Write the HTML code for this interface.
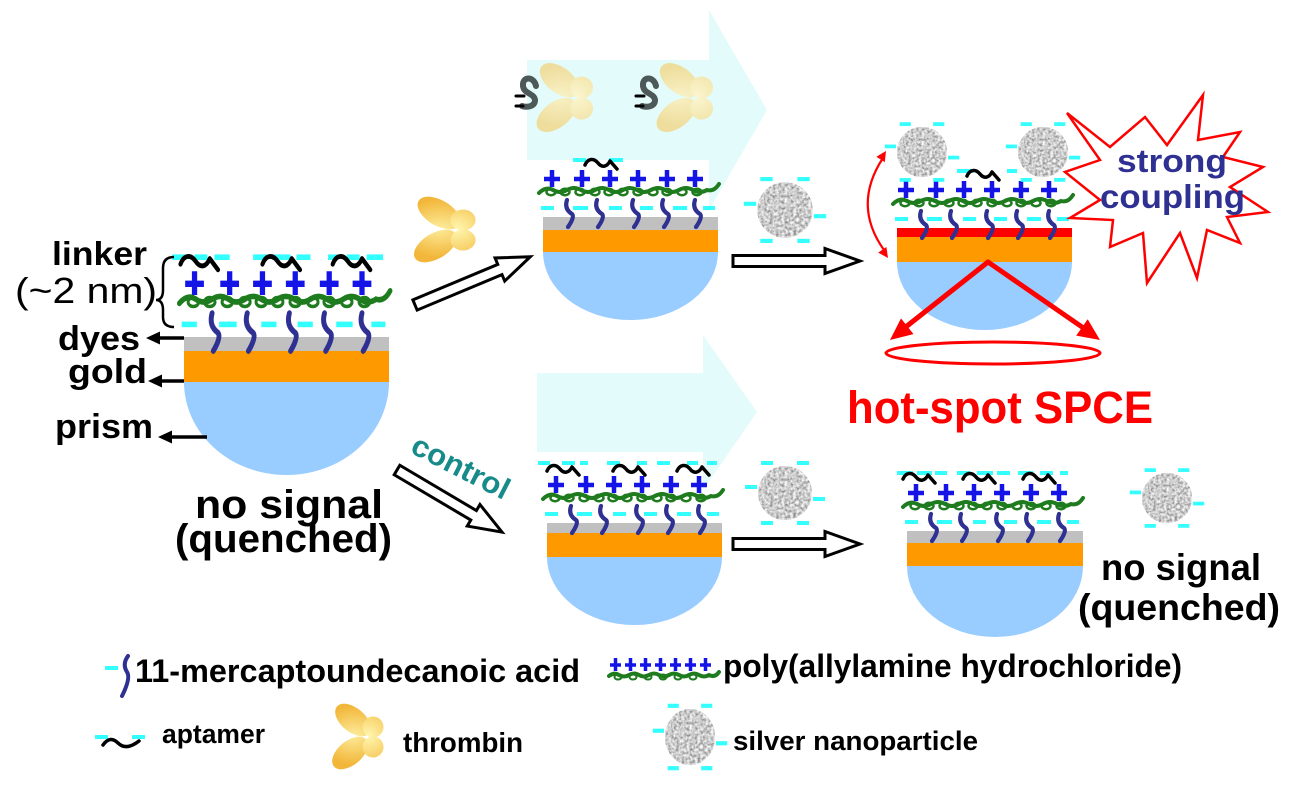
<!DOCTYPE html>
<html><head><meta charset="utf-8"><style>
html,body{margin:0;padding:0;background:#fff;}
svg{display:block;}
</style></head><body>
<svg width="1299" height="789" viewBox="0 0 1299 789" xmlns="http://www.w3.org/2000/svg" xmlns:xlink="http://www.w3.org/1999/xlink" font-family="'Liberation Sans', Arial, sans-serif">
<defs>
  <filter id="tex" x="0" y="0" width="1" height="1">
    <feTurbulence type="fractalNoise" baseFrequency="0.35" numOctaves="2" seed="4" result="n"/>
    <feColorMatrix in="n" type="matrix" values="1.25 0 0 0 -0.02  1.25 0 0 0 -0.02  1.25 0 0 0 -0.02  0 0 0 0 1" result="m"/>
    <feComposite in="m" in2="SourceGraphic" operator="in"/>
  </filter>
  <radialGradient id="gold" gradientUnits="userSpaceOnUse" cx="10" cy="0" r="36">
    <stop offset="0" stop-color="#fff7b0"/>
    <stop offset="1" stop-color="#f2b73a"/>
  </radialGradient>
  <radialGradient id="pale" gradientUnits="userSpaceOnUse" cx="10" cy="0" r="36">
    <stop offset="0" stop-color="#fbf6cf"/>
    <stop offset="1" stop-color="#eedd9c"/>
  </radialGradient>

  <g id="core">
    <g fill="#33ffff">
      <rect x="-2" y="-11" width="13" height="4"/>
      <rect x="30" y="-11" width="15" height="4"/>
      <rect x="66" y="-11" width="13" height="4"/>
      <rect x="97" y="-11" width="13" height="4"/>
      <rect x="130" y="-11" width="14" height="4"/>
      <rect x="160" y="-11" width="12" height="4"/>
    </g>
    <g fill="none" stroke="#2e3192" stroke-width="4.2" stroke-linecap="round" stroke-linejoin="round">
      <path d="M24,-17 Q21,-8 29,-3 Q32,0 25,10"/>
      <path d="M54,-17 Q51,-8 59,-3 Q62,0 55,10"/>
      <path d="M90,-17 Q87,-8 95,-3 Q98,0 91,10"/>
      <path d="M120,-17 Q117,-8 125,-3 Q128,0 121,10"/>
      <path d="M152,-17 Q149,-8 157,-3 Q160,0 153,10"/>
    </g>
    <g fill="none" stroke="#1414e6" stroke-width="4.5">
      <path d="M1,-38 h16 M9,-47 v17"/>
      <path d="M31,-38 h16 M39,-47 v17"/>
      <path d="M59,-38 h16 M67,-47 v17"/>
      <path d="M87,-38 h16 M95,-47 v17"/>
      <path d="M116,-38 h16 M124,-47 v17"/>
      <path d="M144,-38 h16 M152,-47 v17"/>
    </g>
    <path d="M-4,-24 Q3,-31 10,-27 T24,-27 T38,-27 T52,-27 T66,-27 T80,-27 T94,-27 T108,-27 T122,-27 T136,-27 T150,-27 T164,-27 Q171,-25 176,-33" fill="none" stroke="#1e7b1e" stroke-width="4" stroke-linecap="round"/>
    <g fill="none" stroke="#1e7b1e" stroke-width="2.5">
      <ellipse cx="8" cy="-25" rx="4.5" ry="3.2"/>
      <ellipse cx="22" cy="-25" rx="4.5" ry="3.2"/>
      <ellipse cx="37" cy="-25" rx="4.5" ry="3.2"/>
      <ellipse cx="52" cy="-25" rx="4.5" ry="3.2"/>
      <ellipse cx="66" cy="-25" rx="4.5" ry="3.2"/>
      <ellipse cx="80" cy="-25" rx="4.5" ry="3.2"/>
      <ellipse cx="95" cy="-25" rx="4.5" ry="3.2"/>
      <ellipse cx="110" cy="-25" rx="4.5" ry="3.2"/>
      <ellipse cx="124" cy="-25" rx="4.5" ry="3.2"/>
      <ellipse cx="139" cy="-25" rx="4.5" ry="3.2"/>
      <ellipse cx="154" cy="-25" rx="4.5" ry="3.2"/>
    </g>
  </g>

  <path id="apt" d="M0,-52 C3,-59 9,-59 13,-54 C17,-49 22,-50 25,-56 L32,-48" fill="none" stroke="#000" stroke-width="3.5" stroke-linecap="round" stroke-linejoin="round"/>

  <g id="np">
    <circle r="27" fill="#999" filter="url(#tex)"/>
    <g fill="#33ffff">
      <rect x="-24" y="-32" width="12" height="4"/>
      <rect x="12" y="-32" width="12" height="4"/>
      <rect x="-40" y="-8" width="12" height="4"/>
      <rect x="28" y="4" width="12" height="4"/>
      <rect x="-24" y="28" width="12" height="4"/>
      <rect x="12" y="28" width="12" height="4"/>
    </g>
  </g>

  <g id="thr">
    <ellipse cx="-5" cy="-16" rx="21" ry="12" transform="rotate(40 -5 -16)"/>
    <circle cx="15" cy="-9" r="10.5"/>
    <ellipse cx="-8" cy="17" rx="21" ry="12" transform="rotate(-40 -8 17)"/>
    <circle cx="15" cy="11" r="10.5"/>
  </g>
</defs>

<rect width="1299" height="789" fill="#fff"/>

<!-- light background arrows -->
<polygon points="527,60 709,60 709,10 767,110 709,210 709,160 527,160" fill="#e3fbfb"/>
<polygon points="537,373 703,373 703,335 757,412 703,490 703,452 537,452" fill="#e3fbfb"/>

<!-- pale bound thrombins -->
<g fill="url(#pale)">
  <use href="#thr" transform="translate(565,97) scale(1.1,1.05)"/>
  <use href="#thr" transform="translate(685,97) scale(1.1,1.05)"/>
</g>
<g fill="none" stroke="#4d5959" stroke-width="6" stroke-linecap="round">
  <path d="M536,86 C534,76 522,76 523,86 C524,94 534,93 535,100 C535,106 528,108 522,106"/>
  <path d="M656,86 C654,76 642,76 643,86 C644,94 654,93 655,100 C655,106 648,108 642,106"/>
</g>
<g stroke="#000" stroke-width="3" stroke-linecap="round">
  <path d="M516,96 h8 M516,106 h7"/>
  <path d="M636,96 h8 M636,106 h7"/>
</g>

<!-- LEFT main prism -->
<rect x="184" y="337" width="205" height="14" fill="#c0c0c0"/>
<rect x="184" y="351" width="205" height="31" fill="#ff9900"/>
<path d="M184,382 A102.5,93 0 0 0 389,382 Z" fill="#99ccff"/>
<g transform="translate(184,337) scale(1.171,1.4)">
  <g fill="#33ffff">
    <rect x="-10" y="-59" width="12" height="4"/>
    <rect x="9" y="-59" width="11" height="4"/>
    <rect x="26" y="-59" width="13" height="4"/>
    <rect x="59" y="-59" width="12" height="4"/>
    <rect x="75" y="-59" width="16" height="4"/>
    <rect x="96" y="-59" width="12" height="4"/>
    <rect x="123" y="-59" width="8" height="4"/>
    <rect x="139" y="-59" width="11" height="4"/>
    <rect x="156" y="-59" width="14" height="4"/>
  </g>
  <use href="#core"/>
  <use href="#apt" x="-3"/>
  <use href="#apt" x="67"/>
  <use href="#apt" x="127"/>
</g>

<!-- left labels -->
<text x="52" y="265" font-size="33" font-weight="bold" textLength="95" lengthAdjust="spacingAndGlyphs">linker</text>
<text x="15" y="303" font-size="36" textLength="142" lengthAdjust="spacingAndGlyphs">(~2 nm)</text>
<path d="M174,257 Q163,257 163,268 L163,290 Q163,300 156,300 Q163,300 163,310 L163,317 Q163,327 174,327" fill="none" stroke="#000" stroke-width="2.5"/>
<text x="58" y="350" font-size="34" font-weight="bold" textLength="82" lengthAdjust="spacingAndGlyphs">dyes</text>
<text x="68" y="383" font-size="34" font-weight="bold" textLength="79" lengthAdjust="spacingAndGlyphs">gold</text>
<text x="55" y="438" font-size="34" font-weight="bold" textLength="98" lengthAdjust="spacingAndGlyphs">prism</text>
<g stroke="#000" stroke-width="3.5">
  <line x1="158" y1="338" x2="184" y2="338"/>
  <line x1="160" y1="381" x2="184" y2="381"/>
  <line x1="170" y1="437" x2="207" y2="437"/>
</g>
<g fill="#000">
  <polygon points="146,338 160,331.5 160,344.5"/>
  <polygon points="148,381 162,374.5 162,387.5"/>
  <polygon points="158,437 172,430.5 172,443.5"/>
</g>
<text x="195" y="518" font-size="40" font-weight="bold" textLength="188" lengthAdjust="spacingAndGlyphs">no signal</text>
<text x="175" y="552" font-size="40" font-weight="bold" textLength="217" lengthAdjust="spacingAndGlyphs">(quenched)</text>

<!-- hollow arrows -->
<g fill="#fff" stroke="#000" stroke-width="3" stroke-linejoin="miter">
  <polygon transform="translate(415,305) rotate(-22.7)" points="0,-5.5 92,-5.5 92,-12.5 125,0 92,12.5 92,5.5 0,5.5"/>
  <polygon transform="translate(397,470) rotate(30.6)" points="0,-5.5 89,-5.5 89,-12.5 122,0 89,12.5 89,5.5 0,5.5"/>
  <polygon transform="translate(733,261)" points="0,-5.5 92,-5.5 92,-12.5 127,0 92,12.5 92,5.5 0,5.5"/>
  <polygon transform="translate(733,544)" points="0,-5.5 92,-5.5 92,-12.5 127,0 92,12.5 92,5.5 0,5.5"/>
</g>

<!-- free thrombin -->
<use href="#thr" fill="url(#gold)" transform="translate(445,229) scale(1.2,1)"/>

<!-- control label -->
<text transform="translate(409,452) rotate(27)" font-size="30" font-weight="bold" fill="#178a8a" textLength="106" lengthAdjust="spacingAndGlyphs">control</text>

<!-- TOP MIDDLE prism -->
<rect x="543" y="217" width="175" height="13" fill="#c0c0c0"/>
<rect x="543" y="230" width="175" height="22" fill="#ff9900"/>
<path d="M543,252 A87.5,68 0 0 0 718,252 Z" fill="#99ccff"/>
<g transform="translate(543,217)">
  <g fill="#33ffff">
    <rect x="30" y="-59" width="13" height="4"/>
    <rect x="66" y="-59" width="14" height="4"/>
  </g>
  <use href="#core"/>
  <use href="#apt" x="42"/>
</g>
<use href="#np" transform="translate(785,210) scale(1.03)"/>

<!-- TOP RIGHT prism -->
<rect x="897" y="228" width="175" height="9" fill="#ff0000"/>
<rect x="897" y="237" width="175" height="25" fill="#ff9900"/>
<path d="M897,262 A87.5,68 0 0 0 1072,262 Z" fill="#99ccff"/>
<g transform="translate(897,228)">
  <g fill="#33ffff">
    <rect x="60" y="-59" width="16" height="4"/>
    <rect x="110" y="-59" width="10" height="4"/>
  </g>
  <use href="#core"/>
  <use href="#apt" x="70"/>
</g>
<use href="#np" transform="translate(922,152) scale(0.93)"/>
<use href="#np" transform="translate(1043,152) scale(0.93)"/>

<!-- red double arrow -->
<path d="M883,158 Q852,205 884,250" fill="none" stroke="#ff0000" stroke-width="2.2"/>
<polygon points="886,151 884.8,162.1 876.4,156.7" fill="#ff0000"/>
<polygon points="888,258 878.2,252.6 886.4,247" fill="#ff0000"/>

<!-- red SPCE arrows and cone ellipse -->
<g stroke="#ff0000" stroke-width="5" stroke-linecap="round">
  <line x1="988" y1="262" x2="907" y2="326"/>
  <line x1="988" y1="262" x2="1082" y2="327"/>
</g>
<polygon points="890,340 913.5,334.1 901,318.4" fill="#ff0000"/>
<polygon points="1100,340 1076.2,335.6 1087.7,319.2" fill="#ff0000"/>
<ellipse cx="993" cy="353" rx="107" ry="11" fill="none" stroke="#ff0000" stroke-width="3"/>

<!-- starburst -->
<polygon points="1067,113 1110,147 1145,117 1167,145 1203,95 1198,140 1240,132 1223,157 1263,167 1230,187 1268,212 1227,217 1240,243 1207,230 1197,278 1180,233 1147,283 1143,233 1110,247 1113,220 1070,218 1100,200 1065,172 1100,160" fill="#fff" stroke="#ff0000" stroke-width="2.5" stroke-linejoin="miter"/>
<text x="1117" y="172" font-size="32" font-weight="bold" fill="#2e3192" textLength="110" lengthAdjust="spacingAndGlyphs">strong</text>
<text x="1100" y="208" font-size="33" font-weight="bold" fill="#2e3192" textLength="145" lengthAdjust="spacingAndGlyphs">coupling</text>

<text x="847" y="423" font-size="45" font-weight="bold" fill="#ff0000" textLength="306" lengthAdjust="spacingAndGlyphs">hot-spot SPCE</text>

<!-- BOTTOM MIDDLE prism -->
<rect x="547" y="523" width="175" height="10" fill="#c0c0c0"/>
<rect x="547" y="533" width="175" height="24" fill="#ff9900"/>
<path d="M547,557 A87.5,68 0 0 0 722,557 Z" fill="#99ccff"/>
<g transform="translate(547,523)">
  <g fill="#33ffff">
    <rect x="-9" y="-62" width="12" height="4"/>
    <rect x="15" y="-62" width="13" height="4"/>
    <rect x="33" y="-62" width="8" height="4"/>
    <rect x="60" y="-62" width="13" height="4"/>
    <rect x="90" y="-62" width="10" height="4"/>
    <rect x="110" y="-62" width="13" height="4"/>
    <rect x="140" y="-62" width="11" height="4"/>
    <rect x="160" y="-62" width="10" height="4"/>
  </g>
  <use href="#core"/>
  <use href="#apt" x="0"/>
  <use href="#apt" x="66"/>
  <use href="#apt" x="130"/>
</g>
<use href="#np" transform="translate(785,493)"/>

<!-- BOTTOM RIGHT prism -->
<rect x="907" y="531" width="176" height="12" fill="#c0c0c0"/>
<rect x="907" y="543" width="176" height="23" fill="#ff9900"/>
<path d="M907,566 A88,71 0 0 0 1083,566 Z" fill="#99ccff"/>
<g transform="translate(907,531)">
  <g fill="#33ffff">
    <rect x="-10" y="-60" width="16" height="4"/>
    <rect x="10" y="-60" width="15" height="4"/>
    <rect x="28" y="-60" width="12" height="4"/>
    <rect x="50" y="-60" width="13" height="4"/>
    <rect x="70" y="-60" width="16" height="4"/>
    <rect x="90" y="-60" width="13" height="4"/>
    <rect x="111" y="-60" width="15" height="4"/>
    <rect x="133" y="-60" width="13" height="4"/>
    <rect x="153" y="-60" width="8" height="4"/>
  </g>
  <use href="#core"/>
  <use href="#apt" x="-4"/>
  <use href="#apt" x="56"/>
  <use href="#apt" x="116"/>
</g>
<use href="#np" transform="translate(1167,498) scale(0.93)"/>
<text x="1101" y="580" font-size="37" font-weight="bold" textLength="160" lengthAdjust="spacingAndGlyphs">no signal</text>
<text x="1078" y="620" font-size="37" font-weight="bold" textLength="202" lengthAdjust="spacingAndGlyphs">(quenched)</text>

<!-- LEGEND -->
<rect x="105" y="666" width="13" height="4" fill="#33ffff"/>
<path d="M128,656 Q122,664 127,672 Q131,678 122,696" fill="none" stroke="#2e3192" stroke-width="4" stroke-linecap="round"/>
<text x="135" y="682" font-size="32" font-weight="bold" textLength="445" lengthAdjust="spacingAndGlyphs">11-mercaptoundecanoic acid</text>

<g fill="none" stroke="#1414e6" stroke-width="3.5">
  <path d="M610,665 h11 M615.5,658 v13"/>
  <path d="M625,665 h11 M630.5,658 v13"/>
  <path d="M640,665 h11 M645.5,658 v13"/>
  <path d="M655,665 h11 M660.5,658 v13"/>
  <path d="M670,665 h11 M675.5,658 v13"/>
  <path d="M685,665 h11 M690.5,658 v13"/>
  <path d="M700,665 h11 M705.5,658 v13"/>
</g>
<path d="M609,676 Q614,672 619,675 T629,675 T639,675 T649,675 T659,675 T669,675 T679,675 T689,675 T699,675 T709,675 Q715,678 719,672" fill="none" stroke="#1e7b1e" stroke-width="4" stroke-linecap="round"/>
<g fill="none" stroke="#1e7b1e" stroke-width="2">
  <ellipse cx="618" cy="677" rx="3.5" ry="2.5"/>
  <ellipse cx="633" cy="677" rx="3.5" ry="2.5"/>
  <ellipse cx="648" cy="677" rx="3.5" ry="2.5"/>
  <ellipse cx="663" cy="677" rx="3.5" ry="2.5"/>
  <ellipse cx="678" cy="677" rx="3.5" ry="2.5"/>
  <ellipse cx="693" cy="677" rx="3.5" ry="2.5"/>
</g>
<text x="723" y="677" font-size="32" font-weight="bold" textLength="459" lengthAdjust="spacingAndGlyphs">poly(allylamine hydrochloride)</text>

<rect x="95" y="735" width="13" height="4" fill="#33ffff"/>
<rect x="132" y="735" width="13" height="4" fill="#33ffff"/>
<path d="M103,745 C108,738 113,738 118,743 C123,748 130,748 139,741" fill="none" stroke="#000" stroke-width="3.5" stroke-linecap="round"/>
<text x="162" y="743" font-size="27" font-weight="bold" textLength="103" lengthAdjust="spacingAndGlyphs">aptamer</text>

<use href="#thr" fill="url(#gold)" transform="translate(358,736)"/>
<text x="403" y="752" font-size="28" font-weight="bold" textLength="120" lengthAdjust="spacingAndGlyphs">thrombin</text>

<use href="#np" transform="translate(690,737) scale(0.93,1.04)"/>
<text x="733" y="750" font-size="27" font-weight="bold" textLength="245" lengthAdjust="spacingAndGlyphs">silver nanoparticle</text>
</svg>
</body></html>
